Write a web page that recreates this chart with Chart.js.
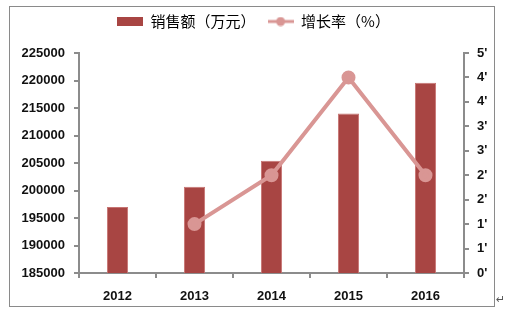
<!DOCTYPE html>
<html>
<head>
<meta charset="utf-8">
<script src="https://cdn.jsdelivr.net/npm/chart.js@4.4.0/dist/chart.umd.min.js"></script>
<style>
  html, body { margin: 0; padding: 0; background: #fff; }
  #wrap { position: absolute; left: 0; top: 0; width: 507px; height: 314px; }
  #frame { position: absolute; left: 9px; top: 6px; width: 484px; height: 299px; border: 1px solid #8a8a8a; pointer-events: none; }
  #mark { position: absolute; left: 496px; top: 293px; font: 11px "DejaVu Sans"; color: #555; }
</style>
</head>
<body>
<div id="wrap"><canvas id="myChart" width="507" height="314"></canvas></div>
<div id="frame"></div>
<span id="mark">↵</span>
<script>
// data
var years = ["2012", "2013", "2014", "2015", "2016"];
var sales = [197000, 200700, 205400, 214000, 219600];
var growth = [null, 1.0, 2.0, 4.0, 2.0];
var rightTickLabels = ["0'", "1'", "1'", "2'", "2'", "3'", "3'", "4'", "4'", "5'"];

var barColor = "#A84543";
var lineColor = "#D99694";
var axisColor = "#8c8c8c";
var tickFont = { family: "Liberation Sans", size: 13, weight: "bold" };

// legend symbols
function legendBox() {
  var c = document.createElement("canvas");
  c.width = 26; c.height = 9;
  var g = c.getContext("2d");
  g.fillStyle = barColor;
  g.fillRect(0, 0, 26, 9);
  return c;
}
function legendLine() {
  var c = document.createElement("canvas");
  c.width = 26; c.height = 10;
  var g = c.getContext("2d");
  g.strokeStyle = lineColor; g.lineWidth = 3;
  g.beginPath(); g.moveTo(0, 5); g.lineTo(26, 5); g.stroke();
  g.fillStyle = lineColor;
  g.beginPath(); g.arc(13, 5, 4.5, 0, Math.PI * 2); g.fill();
  return c;
}
var legendIcons = [legendBox(), legendLine()];

// make the legend box taller so the plot starts lower
var legendHeight = {
  id: "legendHeight",
  beforeLayout: function (chart) {
    var lg = chart.legend;
    if (lg && !lg._patched) {
      var fit = lg.fit;
      lg.fit = function () { fit.call(this); this.height = 51; };
      lg._patched = true;
    }
  },
};

var ctx = document.getElementById("myChart").getContext("2d");
var myChart = new Chart(ctx, {
  data: {
    labels: years,
    datasets: [
      {
        type: "line",
        label: "增长率（%）",
        data: growth,
        yAxisID: "y2",
        borderColor: lineColor,
        backgroundColor: lineColor,
        borderWidth: 4,
        pointRadius: 5,
        pointHoverRadius: 5,
        tension: 0,
        order: 0,
      },
      {
        type: "bar",
        label: "销售额（万元）",
        data: sales,
        yAxisID: "y",
        backgroundColor: barColor,
        borderColor: "#C77472",
        borderWidth: 1,
        barPercentage: 0.55,
        categoryPercentage: 0.5,
        order: 1,
      },
    ],
  },
  plugins: [legendHeight],
  options: {
    responsive: false,
    animation: false,
    layout: { padding: { top: 2, right: 0, bottom: 0, left: 0 } },
    plugins: {
      tooltip: { enabled: false },
      legend: {
        position: "top",
        labels: {
          usePointStyle: true,
          pointStyleWidth: 26,
          padding: 12,
          color: "#111",
          font: { family: "Noto Sans CJK SC", size: 15 },
          generateLabels: function (chart) {
            // bar first, then line
            return [1, 0].map(function (i, k) {
              var ds = chart.data.datasets[i];
              return { text: ds.label, pointStyle: legendIcons[k], datasetIndex: i, hidden: false, lineWidth: 0 };
            });
          },
        },
      },
    },
    scales: {
      x: {
        grid: { drawOnChartArea: false, drawTicks: true, tickLength: 5, color: axisColor, lineWidth: 2, offset: true },
        border: { display: true, color: axisColor, width: 2 },
        ticks: { color: "#111", font: tickFont, padding: 11 },
        afterFit: function (s) { s.height = 41; },
      },
      y: {
        position: "left",
        min: 185000,
        max: 225000,
        grid: { drawOnChartArea: false, drawTicks: true, tickLength: 5, color: axisColor, lineWidth: 2 },
        border: { display: true, color: axisColor, width: 2 },
        ticks: {
          stepSize: 5000,
          color: "#111",
          font: tickFont,
          padding: 9,
          callback: function (v) { return String(v); },
        },
        afterFit: function (s) { s.width = 79; },
      },
      y2: {
        position: "right",
        min: 0,
        max: 4.5,
        grid: { drawOnChartArea: false, drawTicks: true, tickLength: 5, color: axisColor, lineWidth: 2 },
        border: { display: true, color: axisColor, width: 2 },
        ticks: {
          stepSize: 0.5,
          color: "#111",
          font: tickFont,
          padding: 8,
          callback: function (v, i) { return rightTickLabels[i]; },
        },
        afterFit: function (s) { s.width = 43; },
      },
    },
  },
});
</script>
</body>
</html>
